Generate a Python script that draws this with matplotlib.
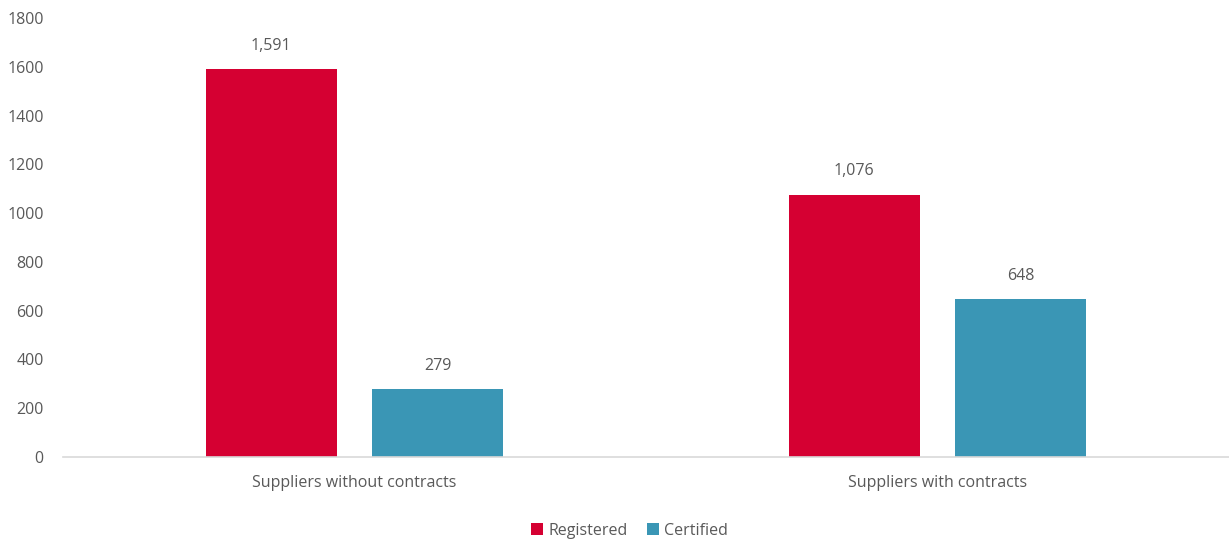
import matplotlib.pyplot as plt
import numpy as np

plt.rcParams['font.family'] = ['Open Sans', 'DejaVu Sans']

categories = ['Suppliers without contracts', 'Suppliers with contracts']
registered = [1591, 1076]
certified = [279, 648]
series_names = ['Registered', 'Certified']
colors = ['#D50032', '#3A96B5']
text_color = '#595959'

fig = plt.figure(figsize=(12.29, 5.4), dpi=100)
ax = fig.add_axes([0.0513, 0.1537, 0.9487, 0.813])

x = np.arange(len(categories))
w = 0.225
off = 0.143
b1 = ax.bar(x - off, registered, w, color=colors[0], label=series_names[0])
b2 = ax.bar(x + off, certified, w, color=colors[1], label=series_names[1])

for bars in (b1, b2):
    for b in bars:
        ax.annotate(f'{int(b.get_height()):,}', (b.get_x() + b.get_width() / 2, b.get_height()),
                    xytext=(0, 11), textcoords='offset points', ha='center', va='bottom',
                    fontsize=11.5, color=text_color)

ax.set_xlim(-0.5, 1.5)
ax.set_ylim(0, 1800)
ax.set_yticks(range(0, 1801, 200))
ax.set_xticks(x)
ax.set_xticklabels(categories)
ax.tick_params(axis='both', length=0, labelsize=11.5, labelcolor=text_color)
ax.tick_params(axis='y', pad=14)
ax.tick_params(axis='x', pad=13)
for s in ['top', 'right', 'left']:
    ax.spines[s].set_visible(False)
ax.spines['bottom'].set_color('#D9D9D9')
ax.spines['bottom'].set_linewidth(1.2)

leg = fig.legend(loc='lower center', bbox_to_anchor=(0.512, -0.024), ncol=2, frameon=False,
                 fontsize=11.5, handlelength=0.8, handleheight=0.8, handletextpad=0.3,
                 columnspacing=1.2)
for t in leg.get_texts():
    t.set_color(text_color)

fig.savefig('out.png', dpi=100)
